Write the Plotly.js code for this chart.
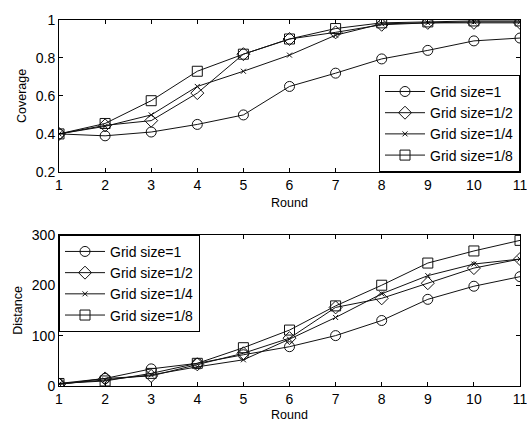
<!DOCTYPE html>
<html>
<head>
<meta charset="utf-8">
<script src="https://cdn.plot.ly/plotly-3.0.1.min.js"></script>
<style>html,body{margin:0;padding:0;background:#fff}#chart{width:527px;height:422px}</style>
</head>
<body>
<div id="chart"></div>
<script>
const rounds = [1, 2, 3, 4, 5, 6, 7, 8, 9, 10, 11];
const seriesNames = ["Grid size=1", "Grid size=1/2", "Grid size=1/4", "Grid size=1/8"];
const coverage1   = [0.40, 0.39, 0.41, 0.45, 0.50, 0.65, 0.72, 0.795, 0.84, 0.89, 0.905];
const coverage1_2 = [0.40, 0.445, 0.47, 0.615, 0.82, 0.90, 0.935, 0.975, 0.985, 0.985, 0.985];
const coverage1_4 = [0.40, 0.44, 0.50, 0.65, 0.73, 0.815, 0.92, 0.98, 0.985, 0.99, 0.99];
const coverage1_8 = [0.40, 0.455, 0.575, 0.73, 0.82, 0.90, 0.955, 0.985, 0.99, 0.995, 0.995];
const distance1   = [5, 15, 34, 45, 62, 78, 100, 130, 172, 198, 217];
const distance1_2 = [3, 15, 20, 43, 65, 95, 156, 174, 204, 234, 252];
const distance1_4 = [4, 12, 22, 38, 52, 93, 136, 183, 219, 242, 252];
const distance1_8 = [5, 10, 25, 45, 76, 111, 159, 200, 244, 268, 289];
const coverageTicks = [0.2, 0.4, 0.6, 0.8, 1];
const distanceTicks = [0, 100, 200, 300];

const symbols = ["circle-open", "diamond-open", "x-thin-open", "square-open"];
const sizes = [10, 10, 5, 10];
const coverage = [coverage1, coverage1_2, coverage1_4, coverage1_8];
const distance = [distance1, distance1_2, distance1_4, distance1_8];

const traces = [];
for (let i = 0; i < 4; i++) {
  traces.push({
    x: rounds, y: coverage[i], name: seriesNames[i], type: "scatter", mode: "lines+markers",
    xaxis: "x", yaxis: "y", legend: "legend",
    line: {color: "#111", width: 1},
    marker: {symbol: symbols[i], size: sizes[i], color: "#111", line: {color: "#111", width: 1}}
  });
}
for (let i = 0; i < 4; i++) {
  traces.push({
    x: rounds, y: distance[i], name: seriesNames[i], type: "scatter", mode: "lines+markers",
    xaxis: "x2", yaxis: "y2", legend: "legend2",
    line: {color: "#111", width: 1},
    marker: {symbol: symbols[i], size: sizes[i], color: "#111", line: {color: "#111", width: 1}}
  });
}

const font = {family: "Liberation Sans, Arial, sans-serif", size: 14, color: "#000"};
const titleFont = {family: "Liberation Sans, Arial, sans-serif", size: 12.5, color: "#000"};
const axisCommon = {
  showline: true, mirror: "ticks", linecolor: "#000", linewidth: 1,
  ticks: "inside", ticklen: 4, tickcolor: "#000", showgrid: false, zeroline: false,
  tickfont: font, ticklabeloverflow: "allow"
};

const layout = {
  width: 527, height: 422,
  margin: {l: 59, r: 7, t: 20, b: 36},
  paper_bgcolor: "#fff", plot_bgcolor: "#fff",
  font: font,
  xaxis: Object.assign({}, axisCommon, {domain: [0, 1], range: [1, 11], tickvals: rounds, anchor: "y",
    title: {text: "Round", font: titleFont, standoff: 6}}),
  yaxis: Object.assign({}, axisCommon, {domain: [0.585, 1], range: [0.2, 1], tickvals: coverageTicks, anchor: "x",
    title: {text: "Coverage", font: titleFont, standoff: 6}}),
  xaxis2: Object.assign({}, axisCommon, {domain: [0, 1], range: [1, 11], tickvals: rounds, anchor: "y2",
    title: {text: "Round", font: titleFont, standoff: 4}}),
  yaxis2: Object.assign({}, axisCommon, {domain: [0, 0.413], range: [0, 300], tickvals: distanceTicks, anchor: "x2",
    title: {text: "Distance", font: titleFont, standoff: 6}}),
  legend: {x: 1, xanchor: "right", y: 0.585, yanchor: "bottom", bgcolor: "#fff",
    bordercolor: "#000", borderwidth: 1, font: font, tracegroupgap: 0, itemwidth: 40},
  legend2: {x: 0, xanchor: "left", y: 0.413, yanchor: "top", bgcolor: "#fff",
    bordercolor: "#000", borderwidth: 1, font: font, tracegroupgap: 0, itemwidth: 40},
  showlegend: true
};

Plotly.newPlot("chart", traces, layout, {displayModeBar: false, staticPlot: true});
</script>
</body>
</html>
